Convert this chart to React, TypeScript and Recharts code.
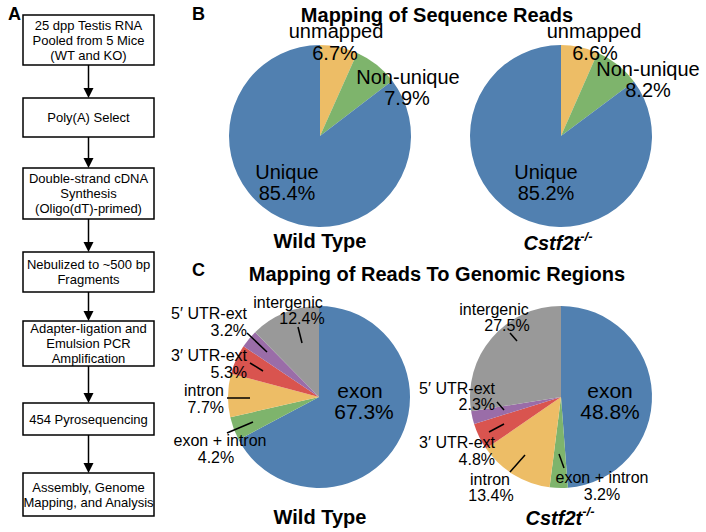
import React from "react";
import { PieChart, Pie, Cell } from "recharts";

const FONT = "'Liberation Sans', Arial, Helvetica, sans-serif";

// panel B
const mapCats = ["unmapped", "Non-unique", "Unique"];
const mapWT = [6.7, 7.9, 85.4];
const mapKO = [6.6, 8.2, 85.2];
const mapColors = ["#EDBD66", "#7EB46C", "#5180B0"];

// panel C
const regionCats = ["exon", "exon + intron", "intron", "3\u2032 UTR-ext", "5\u2032 UTR-ext", "intergenic"];
const regionWT = [67.3, 4.2, 7.7, 5.3, 3.2, 12.4];
const regionKO = [48.8, 3.2, 13.4, 4.8, 2.3, 27.5];
const regionColors = ["#5180B0", "#7EB46C", "#EDBD66", "#D9544F", "#9A6DA8", "#999999"];

// panel A
const steps = [
    ["25 dpp Testis RNA", "Pooled from 5 Mice", "(WT and KO)"],
    ["Poly(A) Select"],
    ["Double-strand cDNA", "Synthesis", "(Oligo(dT)-primed)"],
    ["Nebulized to ~500 bp", "Fragments"],
    ["Adapter-ligation and", "Emulsion PCR", "Amplification"],
    ["454 Pyrosequencing"],
    ["Assembly, Genome", "Mapping, and Analysis"],
];
const stepBoxes: [number, number][] = [
    [15, 65], [98, 137], [168, 219], [252, 292], [321, 366], [403, 435], [473, 516],
];

const toRows = (cats: string[], vals: number[]) => cats.map((name, i) => ({ name, value: vals[i] }));
const pct = (v: number) => v.toFixed(1) + "%";

// where each slice's name and value sit, plus an optional leader line
type Spot = { nx: number; ny: number; vx: number; vy: number; anchor?: "start" | "middle" | "end"; line?: number[] };

const spotsBWT: Spot[] = [
    { nx: 336, ny: 31, vx: 335, vy: 53 },
    { nx: 408, ny: 77, vx: 407, vy: 98 },
    { nx: 287, ny: 172, vx: 287, vy: 193 },
];
const spotsBKO: Spot[] = [
    { nx: 594, ny: 31, vx: 595, vy: 53 },
    { nx: 648, ny: 69, vx: 648, vy: 90 },
    { nx: 546, ny: 172, vx: 546, vy: 193 },
];
const spotsCWT: Spot[] = [
    { nx: 360, ny: 390, vx: 364, vy: 411 },
    { nx: 220, ny: 440, vx: 216, vy: 457, line: [227, 433, 253, 422] },
    { nx: 224, ny: 390, vx: 224, vy: 407, anchor: "end", line: [227, 398, 250, 398] },
    { nx: 247, ny: 355, vx: 247, vy: 372, anchor: "end", line: [250, 363, 263, 371] },
    { nx: 247, ny: 313, vx: 247, vy: 330, anchor: "end", line: [247, 333, 267, 352] },
    { nx: 288, ny: 302, vx: 302, vy: 318, line: [298, 327, 302, 343] },
];
const spotsCKO: Spot[] = [
    { nx: 610, ny: 390, vx: 610, vy: 411 },
    { nx: 602, ny: 477, vx: 602, vy: 494, line: [559, 454, 564, 468] },
    { nx: 490, ny: 479, vx: 491, vy: 495, line: [510, 472, 525, 455] },
    { nx: 495, ny: 442, vx: 495, vy: 459, anchor: "end", line: [489, 432, 504, 424] },
    { nx: 495, ny: 388, vx: 495, vy: 404, anchor: "end", line: [497, 402, 504, 410] },
    { nx: 494, ny: 309, vx: 507, vy: 325, line: [510, 333, 517, 341] },
];

function Labels({ cats, vals, spots, size, bigFirst }: { cats: string[]; vals: number[]; spots: Spot[]; size: number; bigFirst?: boolean }) {
    return (
        <g>
            {spots.map((s, i) => {
                const fs = bigFirst && i === 0 ? 21 : size;
                return (
                    <g key={i}>
                        {s.line && <line x1={s.line[0]} y1={s.line[1]} x2={s.line[2]} y2={s.line[3]} stroke="#000" strokeWidth={1.5} />}
                        <text x={s.nx} y={s.ny} fontSize={fs} textAnchor={s.anchor || "middle"} dominantBaseline="central">{cats[i]}</text>
                        <text x={s.vx} y={s.vy} fontSize={fs} textAnchor={s.anchor || "middle"} dominantBaseline="central">{pct(vals[i])}</text>
                    </g>
                );
            })}
        </g>
    );
}

function Flow() {
    const x0 = 23, x1 = 154, mid = 88.5;
    return (
        <g>
            {steps.map((lines, i) => {
                const [top, bot] = stepBoxes[i];
                const cy = (top + bot) / 2;
                const lh = 15;
                const startY = cy - ((lines.length - 1) * lh) / 2;
                return (
                    <g key={i}>
                        <rect x={x0} y={top} width={x1 - x0} height={bot - top} fill="#fff" stroke="#000" strokeWidth={1.5} />
                        {lines.map((t, j) => (
                            <text key={j} x={mid} y={startY + j * lh} fontSize={13} textAnchor="middle" dominantBaseline="central">{t}</text>
                        ))}
                        {i < steps.length - 1 && (
                            <g>
                                <line x1={mid} y1={bot} x2={mid} y2={stepBoxes[i + 1][0] - 9} stroke="#000" strokeWidth={1.5} />
                                <polygon
                                    points={`${mid - 5},${stepBoxes[i + 1][0] - 10} ${mid + 5},${stepBoxes[i + 1][0] - 10} ${mid},${stepBoxes[i + 1][0]}`}
                                    fill="#000"
                                />
                            </g>
                        )}
                    </g>
                );
            })}
        </g>
    );
}

function Ko({ x, y }: { x: number; y: number }) {
    return (
        <text x={x} y={y} fontSize={20} fontWeight="bold" fontStyle="italic" textAnchor="middle" dominantBaseline="central">
            Cstf2t<tspan fontSize={13} dy={-7}>-/-</tspan>
        </text>
    );
}

export default function App() {
    return (
        <div style={{ position: "absolute", left: 0, top: 0, width: 706, height: 532, background: "#fff", fontFamily: FONT }}>
            <div style={{ position: "absolute", left: 0, top: 0 }}>
                <PieChart width={706} height={532} margin={{ top: 0, right: 0, bottom: 0, left: 0 }}>
                    <Pie data={toRows(mapCats, mapWT)} dataKey="value" cx={320} cy={136} outerRadius={91} startAngle={90} endAngle={-270} stroke="none" isAnimationActive={false}>
                        {mapCats.map((c, i) => <Cell key={c} fill={mapColors[i]} />)}
                    </Pie>
                    <Pie data={toRows(mapCats, mapKO)} dataKey="value" cx={561} cy={136} outerRadius={91} startAngle={90} endAngle={-270} stroke="none" isAnimationActive={false}>
                        {mapCats.map((c, i) => <Cell key={c} fill={mapColors[i]} />)}
                    </Pie>
                    <Pie data={toRows(regionCats, regionWT)} dataKey="value" cx={319} cy={397} outerRadius={91} startAngle={90} endAngle={-270} stroke="none" isAnimationActive={false}>
                        {regionCats.map((c, i) => <Cell key={c} fill={regionColors[i]} />)}
                    </Pie>
                    <Pie data={toRows(regionCats, regionKO)} dataKey="value" cx={561} cy={397} outerRadius={91} startAngle={90} endAngle={-270} stroke="none" isAnimationActive={false}>
                        {regionCats.map((c, i) => <Cell key={c} fill={regionColors[i]} />)}
                    </Pie>
                </PieChart>
            </div>
            <svg width={706} height={532} style={{ position: "absolute", left: 0, top: 0, pointerEvents: "none" }} fontFamily={FONT}>
                <text x={8} y={14} fontSize={18} fontWeight="bold" dominantBaseline="central">A</text>
                <text x={192} y={14} fontSize={18} fontWeight="bold" dominantBaseline="central">B</text>
                <text x={192} y={270} fontSize={18} fontWeight="bold" dominantBaseline="central">C</text>
                <text x={437} y={15} fontSize={20} fontWeight="bold" textAnchor="middle" dominantBaseline="central">Mapping of Sequence Reads</text>
                <text x={437} y={274} fontSize={20} fontWeight="bold" textAnchor="middle" dominantBaseline="central">Mapping of Reads To Genomic Regions</text>
                <Flow />
                <Labels cats={mapCats} vals={mapWT} spots={spotsBWT} size={20} />
                <Labels cats={mapCats} vals={mapKO} spots={spotsBKO} size={20} />
                <Labels cats={regionCats} vals={regionWT} spots={spotsCWT} size={16} bigFirst />
                <Labels cats={regionCats} vals={regionKO} spots={spotsCKO} size={16} bigFirst />
                <text x={320} y={241} fontSize={20} fontWeight="bold" textAnchor="middle" dominantBaseline="central">Wild Type</text>
                <Ko x={558} y={243} />
                <text x={320} y={517} fontSize={20} fontWeight="bold" textAnchor="middle" dominantBaseline="central">Wild Type</text>
                <Ko x={560} y={518} />
            </svg>
        </div>
    );
}
